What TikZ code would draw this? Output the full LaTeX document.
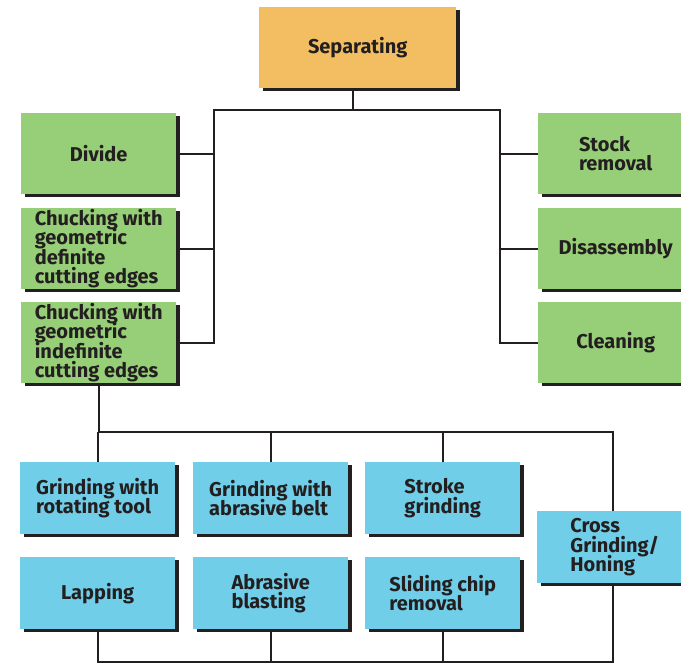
\documentclass[tikz,border=0pt]{standalone}
\usepackage{fontspec}
\setmainfont{Fira Sans}
\usetikzlibrary{shadows}
\definecolor{ink}{HTML}{231F20}
\definecolor{orng}{RGB}{243,190,98}
\definecolor{grn}{RGB}{151,206,120}
\definecolor{blu}{RGB}{112,206,232}
\newcommand\myboxfont{\fontsize{20}{19.3}\selectfont\bfseries\lineskiplimit=-20pt\relax\lineskip=0pt\relax}
\begin{document}
\begin{tikzpicture}[x=1pt,y=-1pt,
  box/.style={rectangle, inner sep=0pt, anchor=north west, text=ink,
    font=\myboxfont, align=left,
    drop shadow={shadow xshift=4pt, shadow yshift=-3pt, fill=ink, opacity=1}},
  top/.style={box, fill=orng, minimum width=197pt, minimum height=81pt},
  gbox/.style={box, fill=grn, minimum width=155pt, minimum height=81pt},
  bbox/.style={box, fill=blu, minimum width=155pt, minimum height=72pt},
  link/.style={draw=ink, line width=1.8pt}]
\useasboundingbox (0,0) rectangle (681,663);
\fill[white] (0,0) rectangle (681,663);
% nodes
\node[top] (sep) at (259,7) {Separating};
\node[gbox] (divide) at (21,113) {Divide};
\node[gbox] (def) at (21,208) {Chucking with\\geometric\\definite\\cutting edges};
\node[gbox] (ind) at (21,302) {Chucking with\\geometric\\indefinite\\cutting edges};
\node[gbox] (stock) at (538,113) {Stock\\removal};
\node[gbox] (dis) at (538,208) {Disassembly};
\node[gbox] (clean) at (538,302) {Cleaning};
\node[bbox] (g1) at (20,462) {Grinding with\\rotating tool};
\node[bbox] (g2) at (193,462) {Grinding with\\abrasive belt};
\node[bbox] (g3) at (365,462) {Stroke\\grinding};
\node[bbox] (lap) at (20,557) {Lapping};
\node[bbox] (blast) at (193,557) {Abrasive\\blasting};
\node[bbox] (slide) at (365,557) {Sliding chip\\removal};
\node[bbox] (cross) at (537,511) {Cross\\Grinding/\\Honing};
% junction coordinates
\coordinate (jl) at (214,110);
\coordinate (jr) at (500,110);
\coordinate (b4) at (613,432);
\coordinate (c4) at (613,662);
% top tree
\draw[link] ([xshift=-5pt]sep.south) -- ([xshift=-5pt]sep.south |- jl);
\draw[link] (ind.east) -| (jl) -- (jr) |- (clean.west);
\draw[link] (divide.east) -- (divide.east -| jl);
\draw[link] (def.east) -- (def.east -| jl);
\draw[link] (stock.west) -- (stock.west -| jr);
\draw[link] (dis.west) -- (dis.west -| jr);
% bottom tree
\draw[link] (ind.south) |- (b4) -- (cross.north -| b4);
\draw[link] (g1.north) -- (g1.north |- b4);
\draw[link] (g2.north) -- (g2.north |- b4);
\draw[link] (g3.north) -- (g3.north |- b4);
\draw[link] (lap.south) |- (c4) -- (cross.south -| c4);
\draw[link] (blast.south) -- (blast.south |- c4);
\draw[link] (slide.south) -- (slide.south |- c4);
\end{tikzpicture}
\end{document}
